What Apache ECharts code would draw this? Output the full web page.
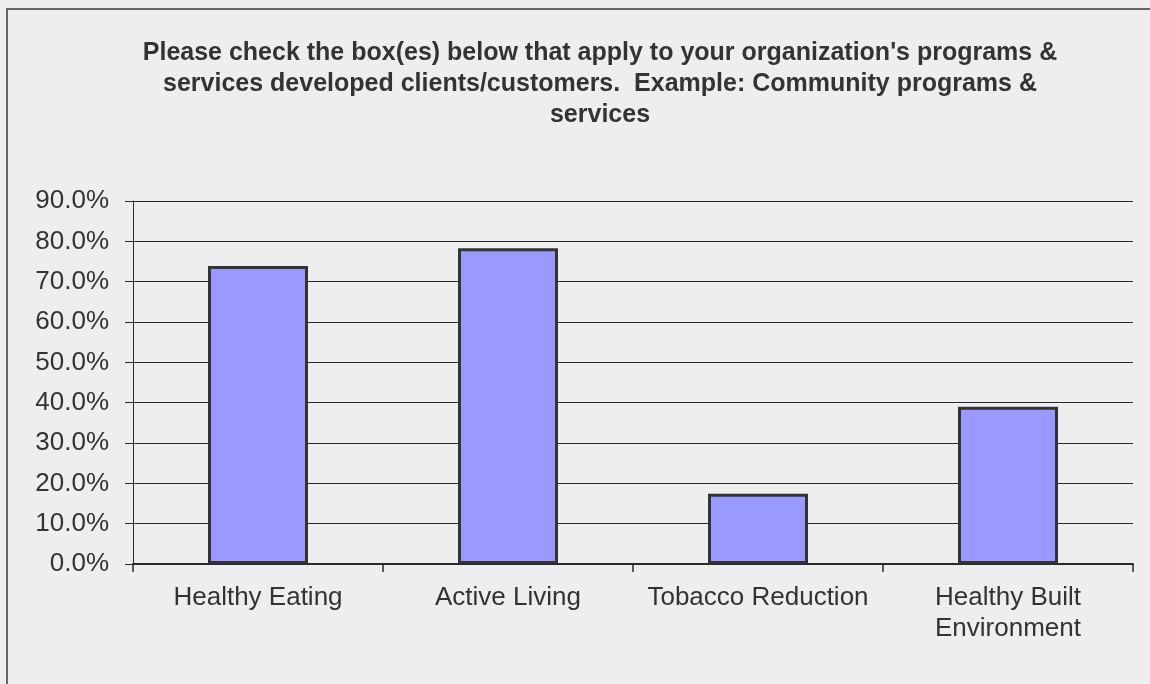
<!DOCTYPE html>
<html>
<head>
<meta charset="utf-8">
<script src="https://cdn.jsdelivr.net/npm/echarts@6/dist/echarts.min.js"></script>
<style>
  html, body { margin: 0; padding: 0; background: #eeeeee; }
  #chart { width: 1150px; height: 684px; }
</style>
</head>
<body>
<div id="chart"></div>
<script>
// Survey question and answer shares
const titleText = "Please check the box(es) below that apply to your organization's programs &\nservices developed clients/customers.  Example: Community programs &\nservices";
const categories = ['Healthy Eating', 'Active Living', 'Tobacco Reduction', 'Healthy Built\nEnvironment'];
const shares = [73.9, 78.3, 17.4, 39.0];
const yTicks = { min: 0, max: 90, interval: 10 };

const ink = '#333333';
const chart = echarts.init(document.getElementById('chart'), null, { renderer: 'canvas' });

chart.setOption({
  backgroundColor: '#eeeeee',
  animation: false,
  graphic: [{
    type: 'rect',
    silent: true,
    shape: { x: 7, y: 9, width: 1200, height: 720 },
    style: { fill: 'none', stroke: '#666666', lineWidth: 2 }
  }],
  title: {
    text: titleText,
    left: 595,
    top: 33,
    textAlign: 'center',
    textStyle: {
      fontFamily: '"Liberation Sans", Arial, sans-serif',
      fontWeight: 'bold',
      fontSize: 25,
      lineHeight: 31,
      color: ink
    }
  },
  grid: { left: 133, right: 17, top: 201, bottom: 120, containLabel: false },
  xAxis: {
    type: 'category',
    data: categories,
    axisLine: { lineStyle: { color: '#2a2a2a', width: 2 } },
    axisTick: { show: true, length: 8, lineStyle: { color: '#2a2a2a', width: 1.5 } },
    axisLabel: {
      fontFamily: '"Liberation Sans", Arial, sans-serif',
      fontSize: 26,
      lineHeight: 31,
      color: ink,
      margin: 18,
      interval: 0
    }
  },
  yAxis: {
    type: 'value',
    min: yTicks.min,
    max: yTicks.max,
    interval: yTicks.interval,
    axisLine: { show: true, lineStyle: { color: '#2a2a2a', width: 1 } },
    axisTick: { show: true, length: 8, lineStyle: { color: '#2a2a2a', width: 1 } },
    splitLine: { show: true, lineStyle: { color: '#2a2a2a', width: 1 } },
    axisLabel: {
      fontFamily: '"Liberation Sans", Arial, sans-serif',
      fontSize: 26,
      color: ink,
      margin: 24,
      formatter: v => v.toFixed(1) + '%'
    }
  },
  series: [{
    type: 'bar',
    data: shares,
    barWidth: '40%',
    itemStyle: { color: '#9999ff', borderColor: ink, borderWidth: 3 }
  }]
});
</script>
</body>
</html>
